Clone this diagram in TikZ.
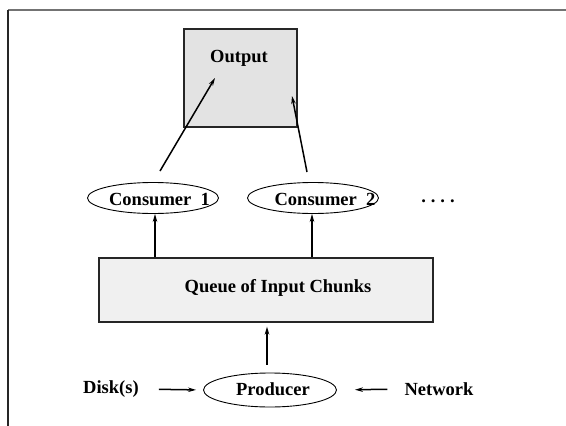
\documentclass[tikz,border=0pt]{standalone}
\usepackage{fontspec}
\setmainfont{Liberation Serif}
\usetikzlibrary{arrows.meta,shapes.geometric}
\begin{document}
\begin{tikzpicture}[x=1pt,y=-1pt,
  lbl/.style={font=\fontsize{18.5}{20}\selectfont\bfseries, inner sep=0pt},
  boxstyle/.style={draw=black!85, line width=1.2pt, inner sep=0pt},
  oval/.style={draw=black, line width=0.9pt, ellipse, inner sep=0pt},
  arr/.style={line width=1.5pt, -{Stealth[length=8pt,width=4.5pt]}}]
\useasboundingbox (0,0) rectangle (566,426);
% frame
\draw[black!55, line width=1.3pt] (8,10) -- (566,10);
\draw[black!85, line width=1.3pt] (8,10) -- (8,426);

% output box
\node[boxstyle, fill=black!11, minimum width=113pt, minimum height=98pt] (out) at (240.5,78) {};
\node[lbl] (outlbl) at (239,58) {Output};

% consumers
\node[oval, minimum width=131pt, minimum height=31pt] (c1) at (153,198) {};
\node[lbl] (c1lbl) at (159.5,199) {Consumer\ \ 1};
\node[oval, minimum width=131pt, minimum height=31pt] (c2) at (313,198) {};
\node[lbl] (c2lbl) at (325,199) {Consumer\ \ 2};
\node[lbl] (dots) at (438,201) {.\hspace{5pt}.\hspace{5pt}.\hspace{5pt}.};

% queue
\node[boxstyle, fill=black!6, minimum width=334pt, minimum height=64pt] (queue) at (266,290) {};
\node[lbl] (qlbl) at (278,288) {Queue of Input Chunks};

% producer and sources
\node[oval, minimum width=133pt, minimum height=34pt] (prod) at (270,390) {};
\node[lbl] (plbl) at (273,389) {Producer};
\node[lbl] (disk) at (111,389) {Disk(s)};
\node[lbl] (net) at (439,389) {Network};

% arrow end points inside the output box
\coordinate (o1) at (215,78);
\coordinate (o2) at (292,96);
\coordinate (s1) at (160,171);
\coordinate (s2) at (307,172);
\coordinate (k1) at (155,0);
\coordinate (k2) at (312,0);
\coordinate (k3) at (267,0);

% connectors
\draw[arr] (s1) -- (o1);
\draw[arr] (s2) -- (o2);
\draw[arr] (queue.north -| k1) -- (c1.south -| k1);
\draw[arr] (queue.north -| k2) -- (c2.south -| k2);
\draw[arr, shorten <=8pt, shorten >=4pt] (prod.north -| k3) -- (queue.south -| k3);
\draw[arr, shorten <=20pt, shorten >=7pt] (disk.east) -- (prod.west);
\draw[arr, shorten <=17pt, shorten >=18pt] (net.west) -- (prod.east);
\end{tikzpicture}
\end{document}
